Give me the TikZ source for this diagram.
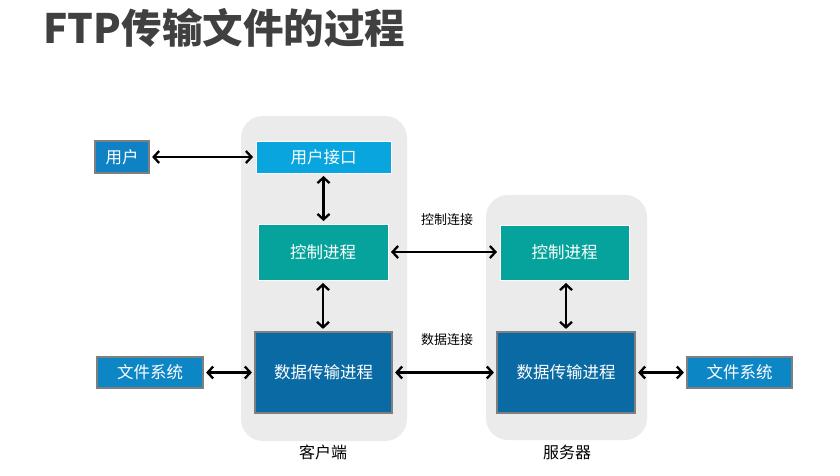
\documentclass[tikz,border=0pt]{standalone}
\usepackage{fontspec}
\setmainfont{Noto Sans CJK SC}
\usetikzlibrary{arrows.meta}
\definecolor{titlec}{HTML}{404040}
\definecolor{panelc}{HTML}{EBEBEB}
\definecolor{userc}{HTML}{0E82C4}
\definecolor{uic}{HTML}{08A5DE}
\definecolor{ctrlc}{HTML}{05A39B}
\definecolor{datac}{HTML}{0A6AA3}
\definecolor{fsc}{HTML}{0D86C6}
\definecolor{edgec}{HTML}{7F7F7F}
\tikzset{
  panel/.style={fill=panelc, rounded corners=22pt, inner sep=0pt, draw=none},
  box/.style={rectangle, inner sep=0pt, text=white, font=\fontsize{16.5}{18}\selectfont},
  graybox/.style={box, draw=edgec, line width=1.2pt},
  whitebox/.style={box, draw=white, line width=1pt},
  lab/.style={font=\fontsize{13}{15}\selectfont, text=black},
  captext/.style={font=\fontsize{16}{18}\selectfont, text=black},
  arr/.style={line width=2.3pt, {Straight Barb[length=5.5pt,width=12pt]}-{Straight Barb[length=5.5pt,width=12pt]}, shorten <=2.5pt, shorten >=2.5pt}
}
\begin{document}
\begin{tikzpicture}[x=1pt,y=-1pt]
\useasboundingbox (0,0) rectangle (840,475);
\fill[white] (0,0) rectangle (840,475);
\node[anchor=west, text=titlec, font=\fontsize{40.5}{44}\selectfont\bfseries] (title) at (40,28) {FTP传输文件的过程};
% panels
\node[panel, minimum width=166pt, minimum height=325pt] (cpanel) at (324,278.5) {};
\node[panel, minimum width=161pt, minimum height=245pt] (spanel) at (566.5,317.5) {};
% client boxes
\node[graybox, fill=userc, minimum width=54pt, minimum height=32pt] (user) at (122,157) {用户};
\node[whitebox, fill=uic, minimum width=135pt, minimum height=32pt] (ui) at (323.5,157) {用户接口};
\node[whitebox, fill=ctrlc, minimum width=130pt, minimum height=56pt] (cc) at (323,252) {控制进程};
\node[graybox, fill=datac, minimum width=137pt, minimum height=81pt] (cd) at (323.5,372.5) {数据传输进程};
\node[graybox, fill=fsc, minimum width=106pt, minimum height=31pt] (fsl) at (150,372.5) {文件系统};
% server boxes
\node[whitebox, fill=ctrlc, minimum width=129pt, minimum height=55pt] (sc) at (564.5,252.5) {控制进程};
\node[graybox, fill=datac, minimum width=138pt, minimum height=81pt] (sd) at (566,372.5) {数据传输进程};
\node[graybox, fill=fsc, minimum width=105pt, minimum height=31pt] (fsr) at (739.5,372.5) {文件系统};
% labels
\node[lab] (lctrl) at (447,220) {控制连接};
\node[lab] (ldata) at (447,340) {数据连接};
\node[captext] (lclient) at (323,452) {客户端};
\node[captext] (lserver) at (567,452) {服务器};
% arrows
\draw[arr] (user.east) -- (ui.west);
\draw[arr] (ui.south) -- (cc.north -| ui.south);
\draw[arr] (cc.south) -- (cd.north -| cc.south);
\draw[arr] (cc.east) -- (cc.east -| sc.west);
\draw[arr] (cd.east) -- (sd.west);
\draw[arr] (fsl.east) -- (cd.west);
\draw[arr] (sd.east) -- (fsr.west);
\draw[arr] (sc.south -| sd.north) -- (sd.north);
\end{tikzpicture}
\end{document}
